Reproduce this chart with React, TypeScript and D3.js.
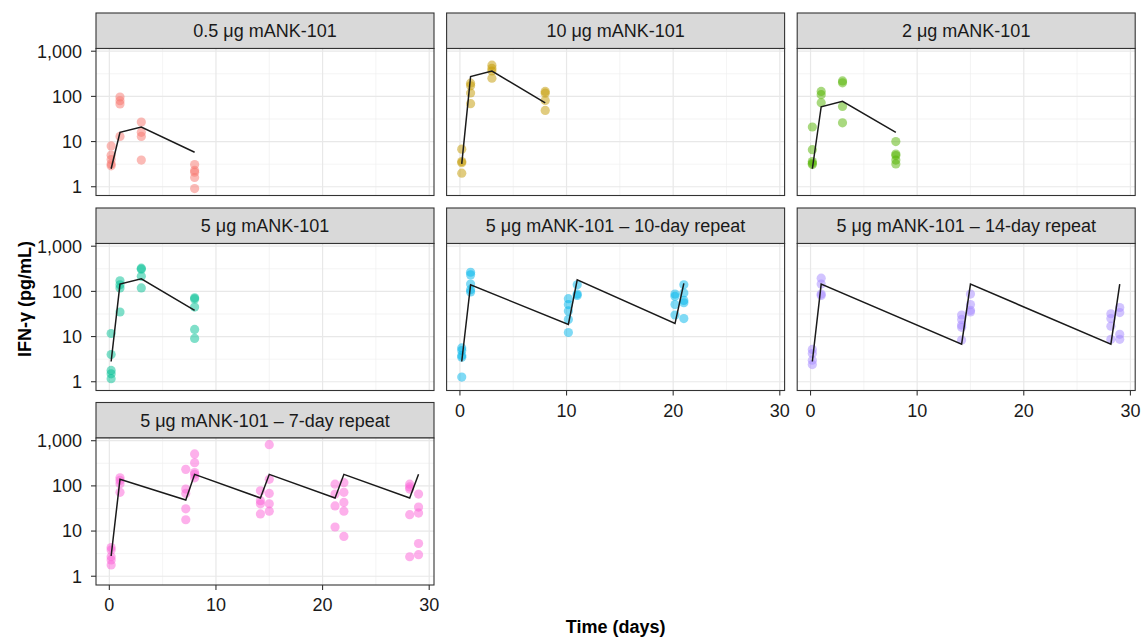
import React from 'react';
import * as d3 from 'd3';

type Pt = [number, number];

// observed IFN-γ per panel: [day, pg/mL]
const pts05: Pt[] = [
  [0.17, 8], [0.17, 5], [0.17, 4], [0.17, 3.2], [0.17, 2.9],
  [1, 97], [1, 80], [1, 68], [1, 13],
  [3, 27], [3, 16], [3, 13], [3, 3.9],
  [8, 3.1], [8, 2.3], [8, 2.1], [8, 1.6], [8, 0.91],
];
const fit05: Pt[] = [[0.17, 2.5], [1, 16], [3, 21], [8, 5.8]];

const pts10: Pt[] = [
  [0.17, 6.8], [0.17, 3.6], [0.17, 3.4], [0.17, 2.0],
  [1, 196], [1, 171], [1, 119], [1, 69],
  [3, 490], [3, 415], [3, 365], [3, 252],
  [8, 129], [8, 118], [8, 81], [8, 49],
];
const fit10: Pt[] = [[0.17, 3.2], [1, 275], [3, 365], [8, 72]];

const pts2: Pt[] = [
  [0.17, 21], [0.17, 6.6], [0.17, 3.6], [0.17, 3.3], [0.17, 3.1],
  [1, 129], [1, 109], [1, 72],
  [3, 220], [3, 200], [3, 60], [3, 26],
  [8, 10], [8, 5.3], [8, 4.9], [8, 3.9], [8, 3.2],
];
const fit2: Pt[] = [[0.17, 2.5], [1, 59], [3, 78], [8, 16]];

const pts5: Pt[] = [
  [0.17, 11.7], [0.17, 4.0], [0.17, 1.78], [0.17, 1.5], [0.17, 1.17],
  [1, 171], [1, 140], [1, 119], [1, 35],
  [3, 326], [3, 310], [3, 215], [3, 119],
  [8, 72], [8, 68], [8, 45], [8, 14.4], [8, 9.1],
];
const fit5: Pt[] = [[0.17, 2.8], [1, 145], [3, 190], [8, 38]];

const pts5r10: Pt[] = [
  [0.17, 5.6], [0.17, 4.9], [0.17, 3.8], [0.17, 3.5], [0.17, 1.27],
  [1, 265], [1, 232], [1, 145], [1, 109], [1, 97],
  [10.17, 69], [10.17, 51], [10.17, 37], [10.17, 24], [10.17, 12.3],
  [11, 140], [11, 87], [11, 81],
  [20.17, 87], [20.17, 78], [20.17, 51], [20.17, 30],
  [21, 140], [21, 92], [21, 63], [21, 56], [21, 25],
];
const fit5r10: Pt[] = [[0.17, 2.8], [1, 140], [10.17, 18.6], [11, 180], [20.17, 19.4], [21, 150]];

const pts5r14: Pt[] = [
  [0.17, 5.2], [0.17, 4.2], [0.17, 3.0], [0.17, 2.4],
  [1, 196], [1, 145], [1, 87], [1, 81],
  [14.17, 30], [14.17, 24], [14.17, 18], [14.17, 16], [14.17, 8.4],
  [15, 87], [15, 51], [15, 38], [15, 35],
  [28.17, 32], [28.17, 25], [28.17, 17], [28.17, 8.7],
  [29, 44], [29, 34], [29, 11.2], [29, 8.7],
];
const fit5r14: Pt[] = [[0.17, 2.8], [1, 145], [14.17, 6.8], [15, 145], [28.17, 6.8], [29, 145]];

const pts5r7: Pt[] = [
  [0.17, 4.3], [0.17, 3.8], [0.17, 2.7], [0.17, 2.3], [0.17, 1.78],
  [1, 151], [1, 132], [1, 112], [1, 72],
  [7.17, 232], [7.17, 85], [7.17, 68], [7.17, 31], [7.17, 17.8],
  [8, 510], [8, 327], [8, 197], [8, 180], [8, 151],
  [14.17, 78], [14.17, 47], [14.17, 40], [14.17, 24],
  [15, 815], [15, 140], [15, 68], [15, 40], [15, 27.5],
  [21.17, 109], [21.17, 66], [21.17, 36], [21.17, 12.3],
  [22, 118], [22, 72], [22, 43], [22, 27.5], [22, 7.6],
  [28.17, 109], [28.17, 95], [28.17, 85], [28.17, 23], [28.17, 2.7],
  [29, 66], [29, 34], [29, 25], [29, 5.3], [29, 3.0],
];
const fit5r7: Pt[] = [
  [0.17, 2.8], [1, 140], [7.17, 48.5], [8, 180], [14.17, 54], [15, 180],
  [21.17, 54], [22, 180], [28.17, 54], [29, 180],
];

const titles = [
  '0.5 μg mANK-101',
  '10 μg mANK-101',
  '2 μg mANK-101',
  '5 μg mANK-101',
  '5 μg mANK-101 – 10-day repeat',
  '5 μg mANK-101 – 14-day repeat',
  '5 μg mANK-101 – 7-day repeat',
];
const colors = ['#F8766D', '#C49A00', '#53B400', '#00C094', '#00B6EB', '#A58AFF', '#FB61D7'];
const allPts = [pts05, pts10, pts2, pts5, pts5r10, pts5r14, pts5r7];
const allFits = [fit05, fit10, fit2, fit5, fit5r10, fit5r14, fit5r7];

const yTicks = [1, 10, 100, 1000];
const yMinor = [Math.pow(10, 0.5), Math.pow(10, 1.5), Math.pow(10, 2.5)];
const xTicks = [0, 10, 20, 30];
const xMinor = [5, 15, 25];

const W = 1144;
const H = 637;
const FONT = '"Liberation Sans", Arial, Helvetica, sans-serif';
const panelW = 338;
const stripH = 35.5;
const plotH = 147;
const colLeft = [96, 446.6, 797.2];
const rowTop = [13, 208, 402.5];

const x = d3.scaleLinear().domain([-1.25, 30.45]).range([0, panelW]);
const y = d3.scaleLog().domain([Math.pow(10, -0.194), Math.pow(10, 3.06)]).range([plotH, 0]);
const fmt = d3.format(',');

const line = d3
  .line<Pt>()
  .x((d) => x(d[0]))
  .y((d) => y(d[1]));

const App: React.FC = () => {
  return (
    <svg width={W} height={H} style={{ position: 'absolute', left: 0, top: 0, background: '#fff' }} fontFamily={FONT}>
      {titles.map((t, i) => {
        const col = i % 3;
        const row = Math.floor(i / 3);
        const left = colLeft[col];
        const top = rowTop[row];
        const py = top + stripH;
        const showY = col === 0;
        const showX = row === 2 || (row === 1 && col > 0);
        return (
          <g key={t}>
            {/* strip */}
            <rect x={left} y={top} width={panelW} height={stripH} fill="#d9d9d9" stroke="#333" strokeWidth={1.1} />
            <text x={left + panelW / 2} y={top + stripH / 2 + 6.5} textAnchor="middle" fontSize={18} fill="#1a1a1a">
              {t}
            </text>
            <g transform={`translate(${left},${py})`}>
              <rect width={panelW} height={plotH} fill="#fff" />
              {xMinor.map((v) => (
                <line key={'xm' + v} x1={x(v)} x2={x(v)} y1={0} y2={plotH} stroke="#efefef" strokeWidth={0.7} />
              ))}
              {yMinor.map((v) => (
                <line key={'ym' + v} x1={0} x2={panelW} y1={y(v)} y2={y(v)} stroke="#efefef" strokeWidth={0.7} />
              ))}
              {xTicks.map((v) => (
                <line key={'xg' + v} x1={x(v)} x2={x(v)} y1={0} y2={plotH} stroke="#e8e8e8" strokeWidth={1.2} />
              ))}
              {yTicks.map((v) => (
                <line key={'yg' + v} x1={0} x2={panelW} y1={y(v)} y2={y(v)} stroke="#e8e8e8" strokeWidth={1.2} />
              ))}
              {allPts[i].map((d, j) => (
                <circle key={j} cx={x(d[0])} cy={y(d[1])} r={4.6} fill={colors[i]} fillOpacity={0.5} />
              ))}
              <path d={line(allFits[i]) || ''} fill="none" stroke="#1a1a1a" strokeWidth={1.5} />
              <rect width={panelW} height={plotH} fill="none" stroke="#333" strokeWidth={1.1} />
              {showY &&
                yTicks.map((v) => (
                  <g key={'yt' + v} transform={`translate(0,${y(v)})`}>
                    <line x1={-5} x2={0} stroke="#333" strokeWidth={1.1} />
                    <text x={-14} dy="0.35em" textAnchor="end" fontSize={18} fill="#1a1a1a">
                      {fmt(v)}
                    </text>
                  </g>
                ))}
              {showX &&
                xTicks.map((v) => (
                  <g key={'xt' + v} transform={`translate(${x(v)},${plotH})`}>
                    <line y1={0} y2={5} stroke="#333" strokeWidth={1.1} />
                    <text y={20} dy="0.35em" textAnchor="middle" fontSize={18} fill="#1a1a1a">
                      {v}
                    </text>
                  </g>
                ))}
            </g>
          </g>
        );
      })}
      <text
        transform={`translate(31,${(rowTop[0] + rowTop[2] + stripH + plotH) / 2}) rotate(-90)`}
        textAnchor="middle"
        fontSize={18}
        fontWeight="bold"
        fill="#000"
      >
        IFN-γ (pg/mL)
      </text>
      <text x={(colLeft[0] + colLeft[2] + panelW) / 2} y={633} textAnchor="middle" fontSize={18} fontWeight="bold" fill="#000">
        Time (days)
      </text>
    </svg>
  );
};

export default App;
